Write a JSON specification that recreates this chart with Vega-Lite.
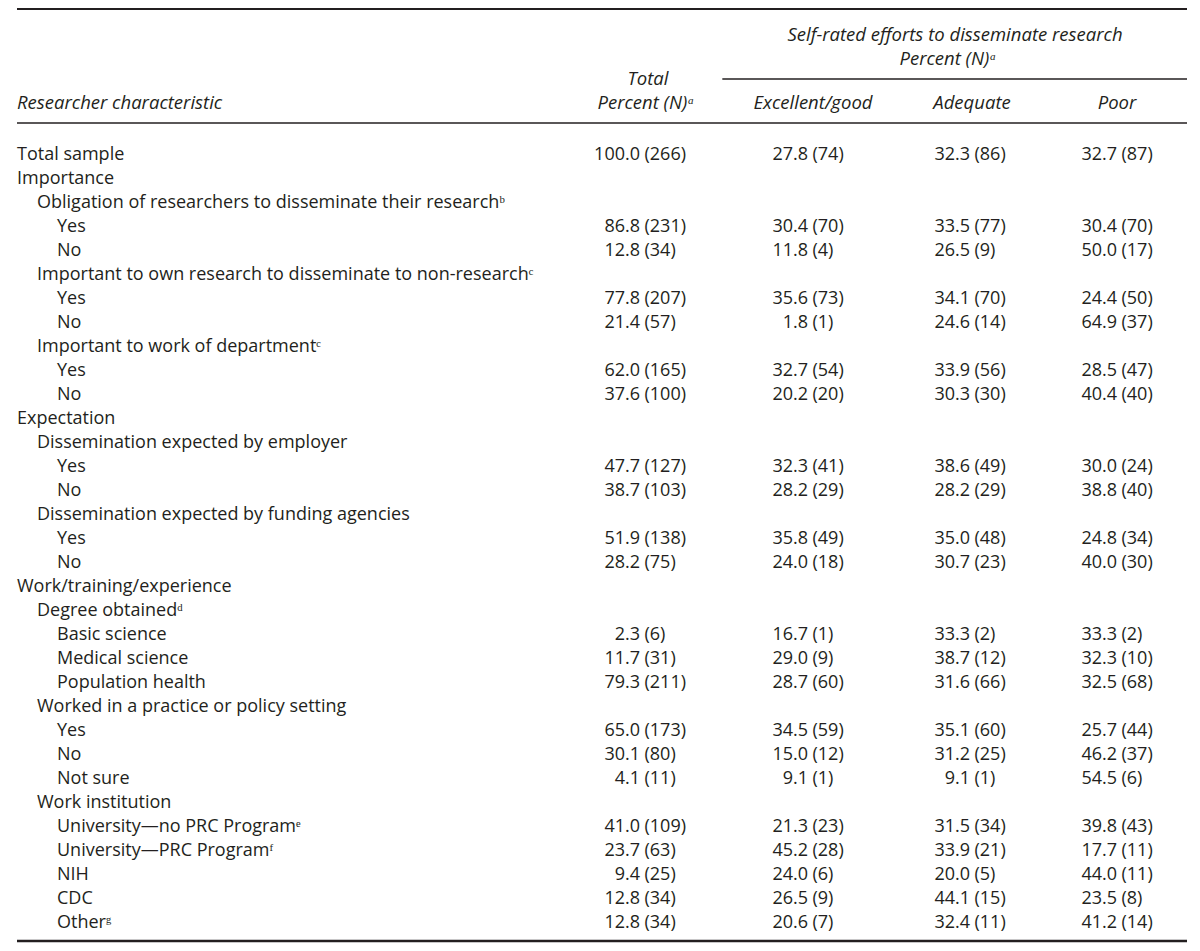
{
  "$schema": "https://vega.github.io/schema/vega-lite/v6.json",
  "width": 1200,
  "height": 951,
  "padding": 0,
  "autosize": {"type": "none"},
  "background": "white",
  "config": {
    "view": {"stroke": null},
    "axis": {"disable": true},
    "text": {"font": "Open Sans", "fontSize": 18, "color": "#231f20", "baseline": "middle"},
    "rule": {"color": "#231f20"}
  },
  "datasets": {
    "rows": [
      {"r": 0, "label": "Total sample", "level": 0},
      {"r": 1, "label": "Importance", "level": 0},
      {"r": 2, "label": "Obligation of researchers to disseminate their researchᵇ", "level": 1},
      {"r": 3, "label": "Yes", "level": 2},
      {"r": 4, "label": "No", "level": 2},
      {"r": 5, "label": "Important to own research to disseminate to non-researchᶜ", "level": 1},
      {"r": 6, "label": "Yes", "level": 2},
      {"r": 7, "label": "No", "level": 2},
      {"r": 8, "label": "Important to work of departmentᶜ", "level": 1},
      {"r": 9, "label": "Yes", "level": 2},
      {"r": 10, "label": "No", "level": 2},
      {"r": 11, "label": "Expectation", "level": 0},
      {"r": 12, "label": "Dissemination expected by employer", "level": 1},
      {"r": 13, "label": "Yes", "level": 2},
      {"r": 14, "label": "No", "level": 2},
      {"r": 15, "label": "Dissemination expected by funding agencies", "level": 1},
      {"r": 16, "label": "Yes", "level": 2},
      {"r": 17, "label": "No", "level": 2},
      {"r": 18, "label": "Work/training/experience", "level": 0},
      {"r": 19, "label": "Degree obtainedᵈ", "level": 1},
      {"r": 20, "label": "Basic science", "level": 2},
      {"r": 21, "label": "Medical science", "level": 2},
      {"r": 22, "label": "Population health", "level": 2},
      {"r": 23, "label": "Worked in a practice or policy setting", "level": 1},
      {"r": 24, "label": "Yes", "level": 2},
      {"r": 25, "label": "No", "level": 2},
      {"r": 26, "label": "Not sure", "level": 2},
      {"r": 27, "label": "Work institution", "level": 1},
      {"r": 28, "label": "University—no PRC Programᵉ", "level": 2},
      {"r": 29, "label": "University—PRC Programᶠ", "level": 2},
      {"r": 30, "label": "NIH", "level": 2},
      {"r": 31, "label": "CDC", "level": 2},
      {"r": 32, "label": "Otherᵍ", "level": 2}
    ],
    "cells": [
      {"r": 0, "c": 1, "p": 100.0, "n": "(266)"}, {"r": 0, "c": 2, "p": 27.8, "n": "(74)"}, {"r": 0, "c": 3, "p": 32.3, "n": "(86)"}, {"r": 0, "c": 4, "p": 32.7, "n": "(87)"},
      {"r": 3, "c": 1, "p": 86.8, "n": "(231)"}, {"r": 3, "c": 2, "p": 30.4, "n": "(70)"}, {"r": 3, "c": 3, "p": 33.5, "n": "(77)"}, {"r": 3, "c": 4, "p": 30.4, "n": "(70)"},
      {"r": 4, "c": 1, "p": 12.8, "n": "(34)"}, {"r": 4, "c": 2, "p": 11.8, "n": "(4)"}, {"r": 4, "c": 3, "p": 26.5, "n": "(9)"}, {"r": 4, "c": 4, "p": 50.0, "n": "(17)"},
      {"r": 6, "c": 1, "p": 77.8, "n": "(207)"}, {"r": 6, "c": 2, "p": 35.6, "n": "(73)"}, {"r": 6, "c": 3, "p": 34.1, "n": "(70)"}, {"r": 6, "c": 4, "p": 24.4, "n": "(50)"},
      {"r": 7, "c": 1, "p": 21.4, "n": "(57)"}, {"r": 7, "c": 2, "p": 1.8, "n": "(1)"}, {"r": 7, "c": 3, "p": 24.6, "n": "(14)"}, {"r": 7, "c": 4, "p": 64.9, "n": "(37)"},
      {"r": 9, "c": 1, "p": 62.0, "n": "(165)"}, {"r": 9, "c": 2, "p": 32.7, "n": "(54)"}, {"r": 9, "c": 3, "p": 33.9, "n": "(56)"}, {"r": 9, "c": 4, "p": 28.5, "n": "(47)"},
      {"r": 10, "c": 1, "p": 37.6, "n": "(100)"}, {"r": 10, "c": 2, "p": 20.2, "n": "(20)"}, {"r": 10, "c": 3, "p": 30.3, "n": "(30)"}, {"r": 10, "c": 4, "p": 40.4, "n": "(40)"},
      {"r": 13, "c": 1, "p": 47.7, "n": "(127)"}, {"r": 13, "c": 2, "p": 32.3, "n": "(41)"}, {"r": 13, "c": 3, "p": 38.6, "n": "(49)"}, {"r": 13, "c": 4, "p": 30.0, "n": "(24)"},
      {"r": 14, "c": 1, "p": 38.7, "n": "(103)"}, {"r": 14, "c": 2, "p": 28.2, "n": "(29)"}, {"r": 14, "c": 3, "p": 28.2, "n": "(29)"}, {"r": 14, "c": 4, "p": 38.8, "n": "(40)"},
      {"r": 16, "c": 1, "p": 51.9, "n": "(138)"}, {"r": 16, "c": 2, "p": 35.8, "n": "(49)"}, {"r": 16, "c": 3, "p": 35.0, "n": "(48)"}, {"r": 16, "c": 4, "p": 24.8, "n": "(34)"},
      {"r": 17, "c": 1, "p": 28.2, "n": "(75)"}, {"r": 17, "c": 2, "p": 24.0, "n": "(18)"}, {"r": 17, "c": 3, "p": 30.7, "n": "(23)"}, {"r": 17, "c": 4, "p": 40.0, "n": "(30)"},
      {"r": 20, "c": 1, "p": 2.3, "n": "(6)"}, {"r": 20, "c": 2, "p": 16.7, "n": "(1)"}, {"r": 20, "c": 3, "p": 33.3, "n": "(2)"}, {"r": 20, "c": 4, "p": 33.3, "n": "(2)"},
      {"r": 21, "c": 1, "p": 11.7, "n": "(31)"}, {"r": 21, "c": 2, "p": 29.0, "n": "(9)"}, {"r": 21, "c": 3, "p": 38.7, "n": "(12)"}, {"r": 21, "c": 4, "p": 32.3, "n": "(10)"},
      {"r": 22, "c": 1, "p": 79.3, "n": "(211)"}, {"r": 22, "c": 2, "p": 28.7, "n": "(60)"}, {"r": 22, "c": 3, "p": 31.6, "n": "(66)"}, {"r": 22, "c": 4, "p": 32.5, "n": "(68)"},
      {"r": 24, "c": 1, "p": 65.0, "n": "(173)"}, {"r": 24, "c": 2, "p": 34.5, "n": "(59)"}, {"r": 24, "c": 3, "p": 35.1, "n": "(60)"}, {"r": 24, "c": 4, "p": 25.7, "n": "(44)"},
      {"r": 25, "c": 1, "p": 30.1, "n": "(80)"}, {"r": 25, "c": 2, "p": 15.0, "n": "(12)"}, {"r": 25, "c": 3, "p": 31.2, "n": "(25)"}, {"r": 25, "c": 4, "p": 46.2, "n": "(37)"},
      {"r": 26, "c": 1, "p": 4.1, "n": "(11)"}, {"r": 26, "c": 2, "p": 9.1, "n": "(1)"}, {"r": 26, "c": 3, "p": 9.1, "n": "(1)"}, {"r": 26, "c": 4, "p": 54.5, "n": "(6)"},
      {"r": 28, "c": 1, "p": 41.0, "n": "(109)"}, {"r": 28, "c": 2, "p": 21.3, "n": "(23)"}, {"r": 28, "c": 3, "p": 31.5, "n": "(34)"}, {"r": 28, "c": 4, "p": 39.8, "n": "(43)"},
      {"r": 29, "c": 1, "p": 23.7, "n": "(63)"}, {"r": 29, "c": 2, "p": 45.2, "n": "(28)"}, {"r": 29, "c": 3, "p": 33.9, "n": "(21)"}, {"r": 29, "c": 4, "p": 17.7, "n": "(11)"},
      {"r": 30, "c": 1, "p": 9.4, "n": "(25)"}, {"r": 30, "c": 2, "p": 24.0, "n": "(6)"}, {"r": 30, "c": 3, "p": 20.0, "n": "(5)"}, {"r": 30, "c": 4, "p": 44.0, "n": "(11)"},
      {"r": 31, "c": 1, "p": 12.8, "n": "(34)"}, {"r": 31, "c": 2, "p": 26.5, "n": "(9)"}, {"r": 31, "c": 3, "p": 44.1, "n": "(15)"}, {"r": 31, "c": 4, "p": 23.5, "n": "(8)"},
      {"r": 32, "c": 1, "p": 12.8, "n": "(34)"}, {"r": 32, "c": 2, "p": 20.6, "n": "(7)"}, {"r": 32, "c": 3, "p": 32.4, "n": "(11)"}, {"r": 32, "c": 4, "p": 41.2, "n": "(14)"}
    ],
    "one": [{}]
  },
  "layer": [
    {
      "data": {"name": "one"},
      "mark": {"type": "rule", "strokeWidth": 2},
      "encoding": {
        "x": {"datum": 0, "type": "quantitative", "scale": {"domain": [0, 1, 2, 3, 4, 5], "range": [17, 640, 808, 970, 1117, 1187], "zero": false, "nice": false}},
        "x2": {"datum": 5},
        "y": {"datum": -6.083, "type": "quantitative", "scale": {"domain": [-6.458, 33.167], "range": [0, 951], "zero": false, "nice": false}}
      }
    },
    {
      "data": {"name": "one"},
      "mark": {"type": "rule", "strokeWidth": 1.3},
      "encoding": {
        "x": {"datum": 1.49, "type": "quantitative"},
        "x2": {"datum": 5},
        "y": {"datum": -3.167, "type": "quantitative"}
      }
    },
    {
      "data": {"name": "one"},
      "mark": {"type": "rule", "strokeWidth": 1.7},
      "encoding": {
        "x": {"datum": 0, "type": "quantitative"},
        "x2": {"datum": 5},
        "y": {"datum": -1.333, "type": "quantitative"}
      }
    },
    {
      "data": {"name": "one"},
      "mark": {"type": "rule", "strokeWidth": 2.6},
      "encoding": {
        "x": {"datum": 0, "type": "quantitative"},
        "x2": {"datum": 5},
        "y": {"datum": 32.75, "type": "quantitative"}
      }
    },
    {
      "data": {"name": "one"},
      "mark": {"type": "text", "text": "Self-rated efforts to disseminate research", "fontStyle": "italic", "fontSize": 18.5, "align": "center", "dx": -15},
      "encoding": {"x": {"datum": 3, "type": "quantitative"}, "y": {"datum": -4.979, "type": "quantitative"}}
    },
    {
      "data": {"name": "one"},
      "mark": {"type": "text", "text": "Percent (N)ᵃ", "fontStyle": "italic", "fontSize": 18.5, "align": "center", "dx": -22},
      "encoding": {"x": {"datum": 3, "type": "quantitative"}, "y": {"datum": -3.979, "type": "quantitative"}}
    },
    {
      "data": {"name": "one"},
      "mark": {"type": "text", "text": "Total", "fontStyle": "italic", "fontSize": 18.5, "align": "center", "dx": 8},
      "encoding": {"x": {"datum": 1, "type": "quantitative"}, "y": {"datum": -3.167, "type": "quantitative"}}
    },
    {
      "data": {"name": "one"},
      "mark": {"type": "text", "text": "Percent (N)ᵃ", "fontStyle": "italic", "fontSize": 18.5, "align": "center", "dx": 6},
      "encoding": {"x": {"datum": 1, "type": "quantitative"}, "y": {"datum": -2.167, "type": "quantitative"}}
    },
    {
      "data": {"name": "one"},
      "mark": {"type": "text", "text": "Researcher characteristic", "fontStyle": "italic", "fontSize": 18.5, "align": "left"},
      "encoding": {"x": {"datum": 0, "type": "quantitative"}, "y": {"datum": -2.167, "type": "quantitative"}}
    },
    {
      "data": {"name": "one"},
      "mark": {"type": "text", "text": "Excellent/good", "fontStyle": "italic", "fontSize": 18.5, "align": "center", "dx": 5},
      "encoding": {"x": {"datum": 2, "type": "quantitative"}, "y": {"datum": -2.167, "type": "quantitative"}}
    },
    {
      "data": {"name": "one"},
      "mark": {"type": "text", "text": "Adequate", "fontStyle": "italic", "fontSize": 18.5, "align": "center", "dx": 2},
      "encoding": {"x": {"datum": 3, "type": "quantitative"}, "y": {"datum": -2.167, "type": "quantitative"}}
    },
    {
      "data": {"name": "one"},
      "mark": {"type": "text", "text": "Poor", "fontStyle": "italic", "fontSize": 18.5, "align": "center"},
      "encoding": {"x": {"datum": 4, "type": "quantitative"}, "y": {"datum": -2.167, "type": "quantitative"}}
    },
    {
      "data": {"name": "rows"},
      "transform": [{"filter": "datum.level == 0"}],
      "mark": {"type": "text", "align": "left"},
      "encoding": {"x": {"datum": 0, "type": "quantitative"}, "y": {"field": "r", "type": "quantitative"}, "text": {"field": "label"}}
    },
    {
      "data": {"name": "rows"},
      "transform": [{"filter": "datum.level == 1"}],
      "mark": {"type": "text", "align": "left", "dx": 20},
      "encoding": {"x": {"datum": 0, "type": "quantitative"}, "y": {"field": "r", "type": "quantitative"}, "text": {"field": "label"}}
    },
    {
      "data": {"name": "rows"},
      "transform": [{"filter": "datum.level == 2"}],
      "mark": {"type": "text", "align": "left", "dx": 40},
      "encoding": {"x": {"datum": 0, "type": "quantitative"}, "y": {"field": "r", "type": "quantitative"}, "text": {"field": "label"}}
    },
    {
      "data": {"name": "cells"},
      "mark": {"type": "text", "align": "right"},
      "encoding": {"x": {"field": "c", "type": "quantitative"}, "y": {"field": "r", "type": "quantitative"}, "text": {"field": "p", "type": "quantitative", "format": ".1f"}}
    },
    {
      "data": {"name": "cells"},
      "mark": {"type": "text", "align": "left", "dx": 4.5},
      "encoding": {"x": {"field": "c", "type": "quantitative"}, "y": {"field": "r", "type": "quantitative"}, "text": {"field": "n"}}
    }
  ]
}
